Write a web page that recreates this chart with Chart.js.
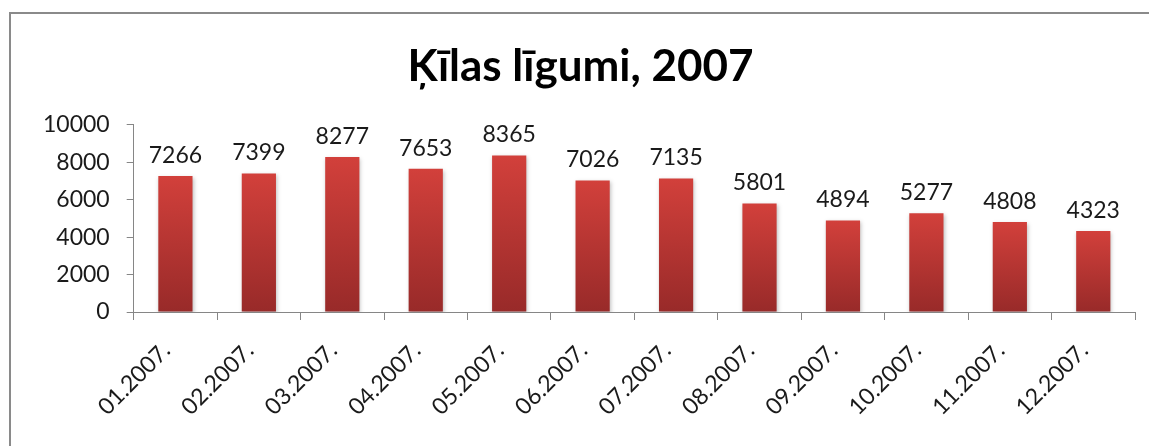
<!DOCTYPE html>
<html>
<head>
<meta charset="utf-8">
<script src="https://cdn.jsdelivr.net/npm/chart.js@4.4.0/dist/chart.umd.min.js"></script>
<style>
  html, body { margin: 0; padding: 0; background: #fff; width: 1149px; height: 446px; overflow: hidden; }
  #frame {
    position: absolute; left: 9px; top: 12px; width: 1180px; height: 480px;
    border: 2px solid #8a8a8a; box-sizing: border-box;
  }
  #wrap { position: absolute; left: 0; top: 0; width: 1149px; height: 446px; }
</style>
</head>
<body>
<div id="frame"></div>
<div id="wrap"><canvas id="chart" width="1149" height="446"></canvas></div>
<script>
// chart data
const months = ['01.2007.', '02.2007.', '03.2007.', '04.2007.', '05.2007.', '06.2007.',
                '07.2007.', '08.2007.', '09.2007.', '10.2007.', '11.2007.', '12.2007.'];
const contracts = [7266, 7399, 8277, 7653, 8365, 7026, 7135, 5801, 4894, 5277, 4808, 4323];
const yTicks = [0, 2000, 4000, 6000, 8000, 10000];

const font = 'Lato, "Open Sans", sans-serif';
const axisGray = '#868686';

// each bar gets its own light-top / dark-bottom gradient
function barFill(ctx) {
    const chart = ctx.chart;
    const y = chart.scales.y;
    if (!y || ctx.raw === undefined) return '#c0392f';
    const top = y.getPixelForValue(ctx.raw);
    const bottom = y.getPixelForValue(0);
    if (!isFinite(top) || !isFinite(bottom) || top === bottom) return '#c0392f';
    const g = chart.ctx.createLinearGradient(0, top, 0, bottom);
    g.addColorStop(0, '#d2403b');
    g.addColorStop(1, '#982a29');
    return g;
}

// value labels above bars
const valueLabels = {
    id: 'valueLabels',
    afterDatasetsDraw(chart) {
        const c = chart.ctx;
        const meta = chart.getDatasetMeta(0);
        c.save();
        c.font = '23px ' + font;
        c.fillStyle = '#1a1a1a';
        c.textAlign = 'center';
        c.textBaseline = 'bottom';
        meta.data.forEach((bar, i) => {
            c.fillText(String(contracts[i]), bar.x, bar.y - 9);
        });
        c.restore();
    }
};

// soft shadow under bars, like the office original
const barShadow = {
    id: 'barShadow',
    beforeDatasetsDraw(chart) {
        chart.ctx.save();
        chart.ctx.shadowColor = 'rgba(0,0,0,0.25)';
        chart.ctx.shadowBlur = 4;
        chart.ctx.shadowOffsetX = 1;
        chart.ctx.shadowOffsetY = 2;
    },
    afterDatasetsDraw(chart) {
        chart.ctx.restore();
    }
};

new Chart(document.getElementById('chart'), {
    type: 'bar',
    data: {
        labels: months,
        datasets: [{
            label: 'Ķīlas līgumi',
            data: contracts,
            backgroundColor: barFill,
            borderWidth: 0,
            barPercentage: 0.41,
            categoryPercentage: 1
        }]
    },
    options: {
        responsive: false,
        animation: false,
        layout: { padding: { left: 26, right: 14, top: 0, bottom: 12 } },
        plugins: {
            legend: { display: false },
            tooltip: { enabled: false },
            title: {
                display: true,
                text: 'Ķīlas līgumi, 2007',
                color: '#000',
                font: { family: font, size: 44, weight: 'bold' },
                padding: { top: 40, bottom: 32 }
            }
        },
        scales: {
            x: {
                offset: true,
                grid: { offset: true, drawOnChartArea: false, tickLength: 8, color: axisGray },
                border: { color: axisGray, width: 1 },
                afterFit(scale) { scale.height = 122; },
                ticks: {
                    color: '#1a1a1a',
                    font: { family: font, size: 23 },
                    minRotation: 45, maxRotation: 45,
                    autoSkip: false,
                    labelOffset: -9,
                    padding: 17
                }
            },
            y: {
                min: 0, max: 10000,
                afterBuildTicks(scale) { scale.ticks = yTicks.map(v => ({ value: v })); },
                grid: { drawOnChartArea: false, tickLength: 7, color: axisGray },
                border: { color: axisGray, width: 1 },
                ticks: {
                    color: '#1a1a1a',
                    font: { family: font, size: 23 },
                    padding: 17,
                    autoSkip: false,
                    callback: v => String(v)
                }
            }
        }
    },
    plugins: [barShadow, valueLabels]
});
</script>
</body>
</html>
